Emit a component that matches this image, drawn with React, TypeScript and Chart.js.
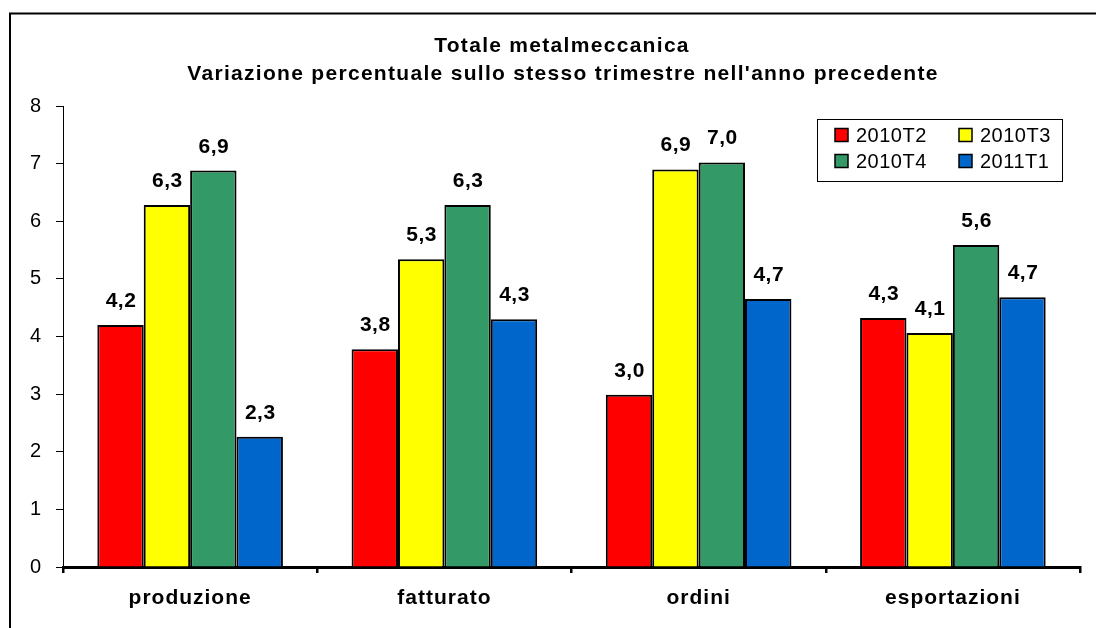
import React, { useEffect, useRef } from 'react';
import { Chart, registerables } from 'chart.js';

Chart.register(...registerables);

const TITLE_LINES = ['Totale metalmeccanica', "Variazione percentuale sullo stesso trimestre nell'anno precedente"];
const CATEGORIES = ['produzione', 'fatturato', 'ordini', 'esportazioni'];
const SERIES_NAMES = ['2010T2', '2010T3', '2010T4', '2011T1'];
const VALUES_2010T2 = [4.2, 3.78, 2.99, 4.32];
const VALUES_2010T3 = [6.28, 5.34, 6.9, 4.06];
const VALUES_2010T4 = [6.88, 6.28, 7.02, 5.59];
const VALUES_2011T1 = [2.26, 4.3, 4.65, 4.68];
const Y_MIN = 0;
const Y_MAX = 8;
const Y_STEP = 1;

const COLORS = ['#FF0000', '#FFFF00', '#339966', '#0066CC'];
const FONT = "'Liberation Sans', Arial, sans-serif";

const fmt = (v: number) => v.toFixed(1).replace('.', ',');

const decorPlugin = {
  id: 'decor',
  beforeDraw(chart: any) {
    const ctx = chart.ctx as CanvasRenderingContext2D;
    ctx.save();
    // outer frame
    ctx.strokeStyle = '#000';
    ctx.lineWidth = 2;
    ctx.strokeRect(10, 13.5, 1300, 1300);
    // title
    ctx.fillStyle = '#000';
    ctx.font = `bold 21px ${FONT}`;
    ctx.textAlign = 'center';
    ctx.textBaseline = 'alphabetic';
    (ctx as any).letterSpacing = '1.3px';
    ctx.fillText(TITLE_LINES[0], 562, 52);
    ctx.fillText(TITLE_LINES[1], 563, 80);
    ctx.restore();
    (ctx as any).letterSpacing = '1px';
  },
  afterDatasetsDraw(chart: any) {
    const ctx = chart.ctx as CanvasRenderingContext2D;
    ctx.save();
    ctx.fillStyle = '#000';
    ctx.font = `bold 21px ${FONT}`;
    ctx.textAlign = 'center';
    ctx.textBaseline = 'alphabetic';
    (ctx as any).letterSpacing = '0.5px';
    chart.data.datasets.forEach((ds: any, i: number) => {
      const meta = chart.getDatasetMeta(i);
      meta.data.forEach((bar: any, j: number) => {
        ctx.fillText(fmt(ds.data[j]), bar.x + 0.5, bar.y - 18);
      });
    });
    ctx.restore();
  },
  afterDraw(chart: any) {
    const ctx = chart.ctx as CanvasRenderingContext2D;
    ctx.save();
    (ctx as any).letterSpacing = '0.5px';
    // legend box
    ctx.fillStyle = '#fff';
    ctx.fillRect(817, 119, 245, 62);
    ctx.strokeStyle = '#000';
    ctx.lineWidth = 1;
    ctx.strokeRect(817.5, 119.5, 245, 62);
    ctx.font = `20px ${FONT}`;
    ctx.textAlign = 'left';
    ctx.textBaseline = 'middle';
    const cols = [835, 959];
    const rows = [135, 161];
    chart.data.datasets.forEach((ds: any, i: number) => {
      const x = cols[i % 2];
      const y = rows[Math.floor(i / 2)];
      ctx.fillStyle = ds.backgroundColor;
      ctx.fillRect(x, y - 6.5, 13, 13);
      ctx.strokeStyle = '#000';
      ctx.lineWidth = 1.5;
      ctx.strokeRect(x, y - 6.5, 13, 13);
      ctx.fillStyle = '#000';
      ctx.fillText(ds.label, x + 21, y + 1);
    });
    ctx.restore();
    (ctx as any).letterSpacing = '0px';
  },
};

export default function App() {
  const ref = useRef<HTMLCanvasElement>(null);

  useEffect(() => {
    if (!ref.current) return;
    const seriesValues = [VALUES_2010T2, VALUES_2010T3, VALUES_2010T4, VALUES_2011T1];
    const chart = new Chart(ref.current, {
      type: 'bar',
      data: {
        labels: CATEGORIES,
        datasets: SERIES_NAMES.map((name, i) => ({
          label: name,
          data: seriesValues[i],
          backgroundColor: COLORS[i],
          borderColor: '#000',
          borderWidth: 2,
          categoryPercentage: 0.73,
          barPercentage: 1,
        })),
      },
      options: {
        animation: false,
        responsive: false,
        devicePixelRatio: 1,
        layout: { padding: { left: 0, right: 16, top: 106, bottom: 0 } },
        plugins: {
          legend: { display: false },
          title: { display: false },
          tooltip: { enabled: false },
        },
        scales: {
          x: {
            grid: {
              offset: true,
              drawOnChartArea: false,
              drawTicks: true,
              tickLength: 6,
              color: '#000',
              lineWidth: 2.5,
            },
            border: { color: '#000', width: 3 },
            ticks: {
              color: '#000',
              font: { family: FONT, size: 21, weight: 'bold' },
              padding: 13,
            },
            afterFit: (s: any) => {
              s.height = 61;
            },
          },
          y: {
            min: Y_MIN,
            max: Y_MAX,
            grid: {
              drawOnChartArea: false,
              drawTicks: true,
              tickLength: 7,
              color: '#000',
              lineWidth: 1,
            },
            border: { color: '#000', width: 1 },
            ticks: {
              stepSize: Y_STEP,
              color: '#000',
              font: { family: FONT, size: 20 },
              padding: 14,
            },
            afterFit: (s: any) => {
              s.width = 63;
            },
          },
        },
      },
      plugins: [decorPlugin],
    });
    return () => chart.destroy();
  }, []);

  return (
    <div style={{ position: 'fixed', left: 0, top: 0, width: 1096, height: 628, background: '#fff' }}>
      <canvas ref={ref} width={1096} height={628} style={{ display: 'block' }} />
    </div>
  );
}
